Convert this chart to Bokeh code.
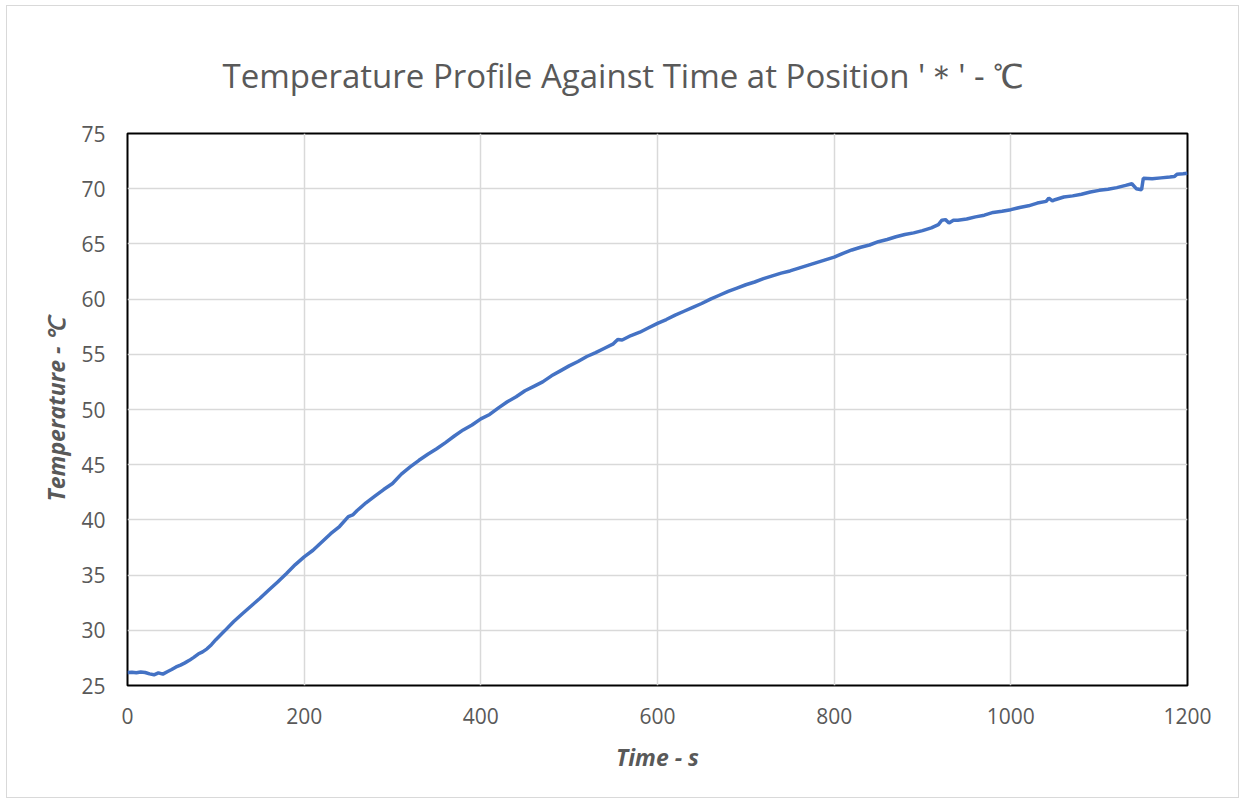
from bokeh.plotting import figure
from bokeh.embed import file_html
from bokeh.resources import INLINE
from bokeh.models import FixedTicker, Range1d

# ---- data ----
time_s = [0, 5, 10, 15, 20, 25, 30, 35, 40, 45, 50, 55, 60, 65, 70, 75, 80, 85, 90, 95,
          100, 110, 120, 130, 140, 150, 160, 170, 180, 190, 200, 210, 220, 230, 240, 250,
          255, 260, 270, 280, 290, 300, 310, 320, 330, 340, 350, 360, 370, 380, 390, 400,
          410, 420, 430, 440, 450, 460, 470, 480, 490, 500, 510, 520, 530, 540, 550, 555,
          560, 570, 580, 590, 600, 610, 620, 630, 640, 650, 660, 670, 680, 690, 700, 710,
          720, 730, 740, 750, 760, 770, 780, 790, 800, 810, 820, 830, 840, 850, 860, 870,
          880, 890, 900, 910, 918, 922, 926, 930, 935, 940, 950, 960, 970, 980, 990, 1000,
          1010, 1020, 1030, 1040, 1043, 1047, 1050, 1060, 1070, 1080, 1090, 1100, 1110,
          1120, 1130, 1137, 1142, 1148, 1150, 1160, 1170, 1180, 1185, 1188, 1195, 1200]
temperature_c = [26.18, 26.20, 26.15, 26.22, 26.18, 26.05, 25.97, 26.15, 26.03, 26.25,
                 26.45, 26.68, 26.85, 27.05, 27.28, 27.55, 27.85, 28.05, 28.32, 28.70,
                 29.15, 29.95, 30.78, 31.50, 32.20, 32.90, 33.65, 34.38, 35.15, 35.95,
                 36.65, 37.25, 38.00, 38.75, 39.40, 40.30, 40.45, 40.85, 41.55, 42.15,
                 42.75, 43.30, 44.15, 44.80, 45.40, 45.95, 46.45, 47.00, 47.60, 48.15,
                 48.60, 49.15, 49.55, 50.15, 50.70, 51.15, 51.70, 52.10, 52.50, 53.05,
                 53.50, 53.95, 54.35, 54.80, 55.15, 55.55, 55.95, 56.35, 56.30, 56.70,
                 57.00, 57.40, 57.80, 58.15, 58.55, 58.90, 59.25, 59.60, 60.00, 60.35,
                 60.70, 61.00, 61.30, 61.55, 61.85, 62.10, 62.35, 62.55, 62.80, 63.05,
                 63.30, 63.55, 63.80, 64.15, 64.45, 64.70, 64.90, 65.20, 65.40, 65.65,
                 65.85, 66.00, 66.20, 66.45, 66.75, 67.15, 67.20, 66.90, 67.15, 67.15,
                 67.25, 67.45, 67.60, 67.85, 67.95, 68.10, 68.30, 68.45, 68.70, 68.85,
                 69.15, 68.90, 69.00, 69.25, 69.35, 69.50, 69.70, 69.85, 69.95, 70.10,
                 70.30, 70.45, 70.00, 69.90, 70.95, 70.90, 70.98, 71.05, 71.10, 71.30,
                 71.35, 71.40]
x_ticks = [0, 200, 400, 600, 800, 1000, 1200]
y_ticks = [25, 30, 35, 40, 45, 50, 55, 60, 65, 70, 75]

title_text = "Temperature Profile Against Time at Position '＊' - ℃"
x_label = "Time - s"
y_label = "Temperature - ℃"

GRAY = "#595959"
FONT = "Open Sans"

p = figure(output_backend="svg", toolbar_location=None,
           frame_width=1060, frame_height=552,
           min_border_left=120, min_border_right=51,
           min_border_top=127, min_border_bottom=112,
           x_range=Range1d(0, 1200), y_range=Range1d(25, 75),
           title=title_text)
p.styles = {"border": "1px solid #d9d9d9", "margin-left": "6px", "margin-top": "5px"}

p.title.align = "left"
p.title.offset = 95
p.title.text_font = FONT
p.title.text_font_size = "33px"
p.title.text_font_style = "normal"
p.title.text_color = GRAY
p.title.standoff = 72

p.line(time_s, temperature_c, line_color="#4472C4", line_width=3.5)

p.outline_line_color = "black"
p.outline_line_width = 2
p.outline_line_alpha = 1

for ax in (p.xaxis[0], p.yaxis[0]):
    ax.axis_line_color = None
    ax.major_tick_line_color = None
    ax.minor_tick_line_color = None
    ax.major_tick_in = 0
    ax.major_tick_out = 0
    ax.minor_tick_in = 0
    ax.minor_tick_out = 0
    ax.major_label_text_font = FONT
    ax.major_label_text_font_size = "21px"
    ax.major_label_text_color = GRAY
    ax.axis_label_text_font = FONT
    ax.axis_label_text_font_size = "23px"
    ax.axis_label_text_font_style = "bold italic"
    ax.axis_label_text_color = GRAY

p.xaxis[0].ticker = FixedTicker(ticks=x_ticks)
p.yaxis[0].ticker = FixedTicker(ticks=y_ticks)
p.xaxis[0].axis_label = x_label
p.yaxis[0].axis_label = y_label
p.xaxis[0].major_label_standoff = 22
p.yaxis[0].major_label_standoff = 22
p.xaxis[0].axis_label_standoff = 14
p.yaxis[0].axis_label_standoff = 6

p.xgrid[0].ticker = FixedTicker(ticks=x_ticks)
p.ygrid[0].ticker = FixedTicker(ticks=y_ticks)
for g in (p.xgrid[0], p.ygrid[0]):
    g.grid_line_color = "#d9d9d9"
    g.grid_line_width = 1.5

p.background_fill_color = "white"
p.border_fill_color = "white"

open("out.html", "w").write(file_html(p, INLINE))
